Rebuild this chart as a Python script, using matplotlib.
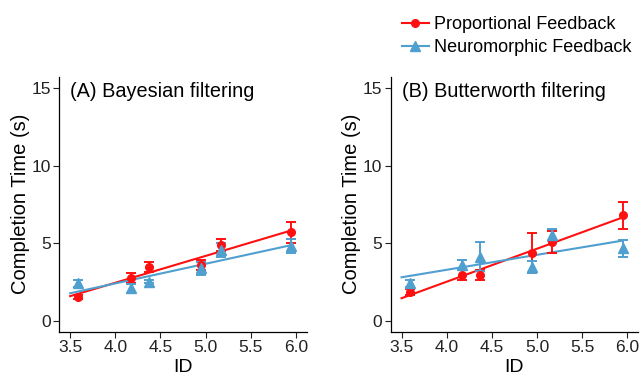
import matplotlib
matplotlib.use("Agg")
import matplotlib.pyplot as plt
import numpy as np
from matplotlib.lines import Line2D

plt.rcParams["font.family"] = ["Liberation Sans", "DejaVu Sans"]

# index of difficulty for each target condition
id_vals = np.array([3.59, 4.17, 4.37, 4.95, 5.17, 5.95])

# (A) Bayesian filtering
bayes_prop = np.array([1.55, 2.74, 3.49, 3.62, 4.89, 5.70])
bayes_prop_err = np.array([0.12, 0.33, 0.33, 0.32, 0.40, 0.68])
bayes_neuro = np.array([2.41, 2.09, 2.52, 3.38, 4.56, 4.82])
bayes_neuro_err = np.array([0.25, 0.28, 0.10, 0.42, 0.43, 0.45])

# (B) Butterworth filtering
butter_prop = np.array([1.87, 2.95, 2.95, 4.39, 5.10, 6.80])
butter_prop_err = np.array([0.18, 0.30, 0.32, 1.30, 0.70, 0.85])
butter_neuro = np.array([2.41, 3.60, 4.13, 3.45, 5.53, 4.67])
butter_neuro_err = np.array([0.25, 0.35, 0.95, 0.40, 0.40, 0.55])

titles = ["(A) Bayesian filtering", "(B) Butterworth filtering"]
series_labels = ["Proportional Feedback", "Neuromorphic Feedback"]
xticks = [3.5, 4.0, 4.5, 5.0, 5.5, 6.0]
yticks = [0, 5, 10, 15]

red = "#FF1010"
blue = "#4F9FCF"


def draw_panel(ax, title, prop, prop_err, neuro, neuro_err):
    """Points, error bars and the linear fit for both feedback types."""
    fit_x = np.linspace(3.5, id_vals.max(), 50)
    for y, err, col, mk, ms in [
        (prop, prop_err, red, "o", 5.5),
        (neuro, neuro_err, blue, "^", 7.5),
    ]:
        ax.errorbar(id_vals, y, yerr=err, fmt="none", ecolor=col,
                    elinewidth=1.4, capsize=3.8, capthick=1.4, zorder=3)
        ax.plot(id_vals, y, linestyle="none", marker=mk, color=col,
                markersize=ms, zorder=4)
        k, b = np.polyfit(id_vals, y, 1)
        ax.plot(fit_x, k * fit_x + b, color=col, linewidth=1.5, zorder=2)

    ax.set_xlim(3.38, 6.12)
    ax.set_ylim(-0.71, 15.75)
    ax.set_xticks(xticks)
    ax.set_xticklabels([f"{t:.1f}" for t in xticks])
    ax.set_yticks(yticks)
    ax.tick_params(labelsize=12.5, length=4, width=0.8, pad=2, colors="#222222")
    for side in ["top", "right"]:
        ax.spines[side].set_visible(False)
    for side in ["left", "bottom"]:
        ax.spines[side].set_linewidth(0.9)
    ax.set_xlabel("ID", fontsize=14, labelpad=3)
    ax.set_ylabel("Completion Time (s)", fontsize=14.5, labelpad=1)
    ax.text(0.045, 0.98, title, transform=ax.transAxes, fontsize=14.3,
            ha="left", va="top")


fig = plt.figure(figsize=(6.42, 3.77), dpi=100)
ax1 = fig.add_axes([0.0924, 0.120, 0.3854, 0.6766])
ax2 = fig.add_axes([0.6086, 0.120, 0.3854, 0.6766])

draw_panel(ax1, titles[0], bayes_prop, bayes_prop_err, bayes_neuro, bayes_neuro_err)
draw_panel(ax2, titles[1], butter_prop, butter_prop_err, butter_neuro, butter_neuro_err)

handles = [
    Line2D([], [], color=red, marker="o", markersize=5.5, linewidth=1.5),
    Line2D([], [], color=blue, marker="^", markersize=7.5, linewidth=1.5),
]
fig.legend(handles, series_labels, loc="upper right", bbox_to_anchor=(1.004, 0.99),
           frameon=False, fontsize=13, handlelength=1.5, handletextpad=0.3,
           labelspacing=0.32, borderaxespad=0.3)

fig.savefig("out.png", dpi=100)
